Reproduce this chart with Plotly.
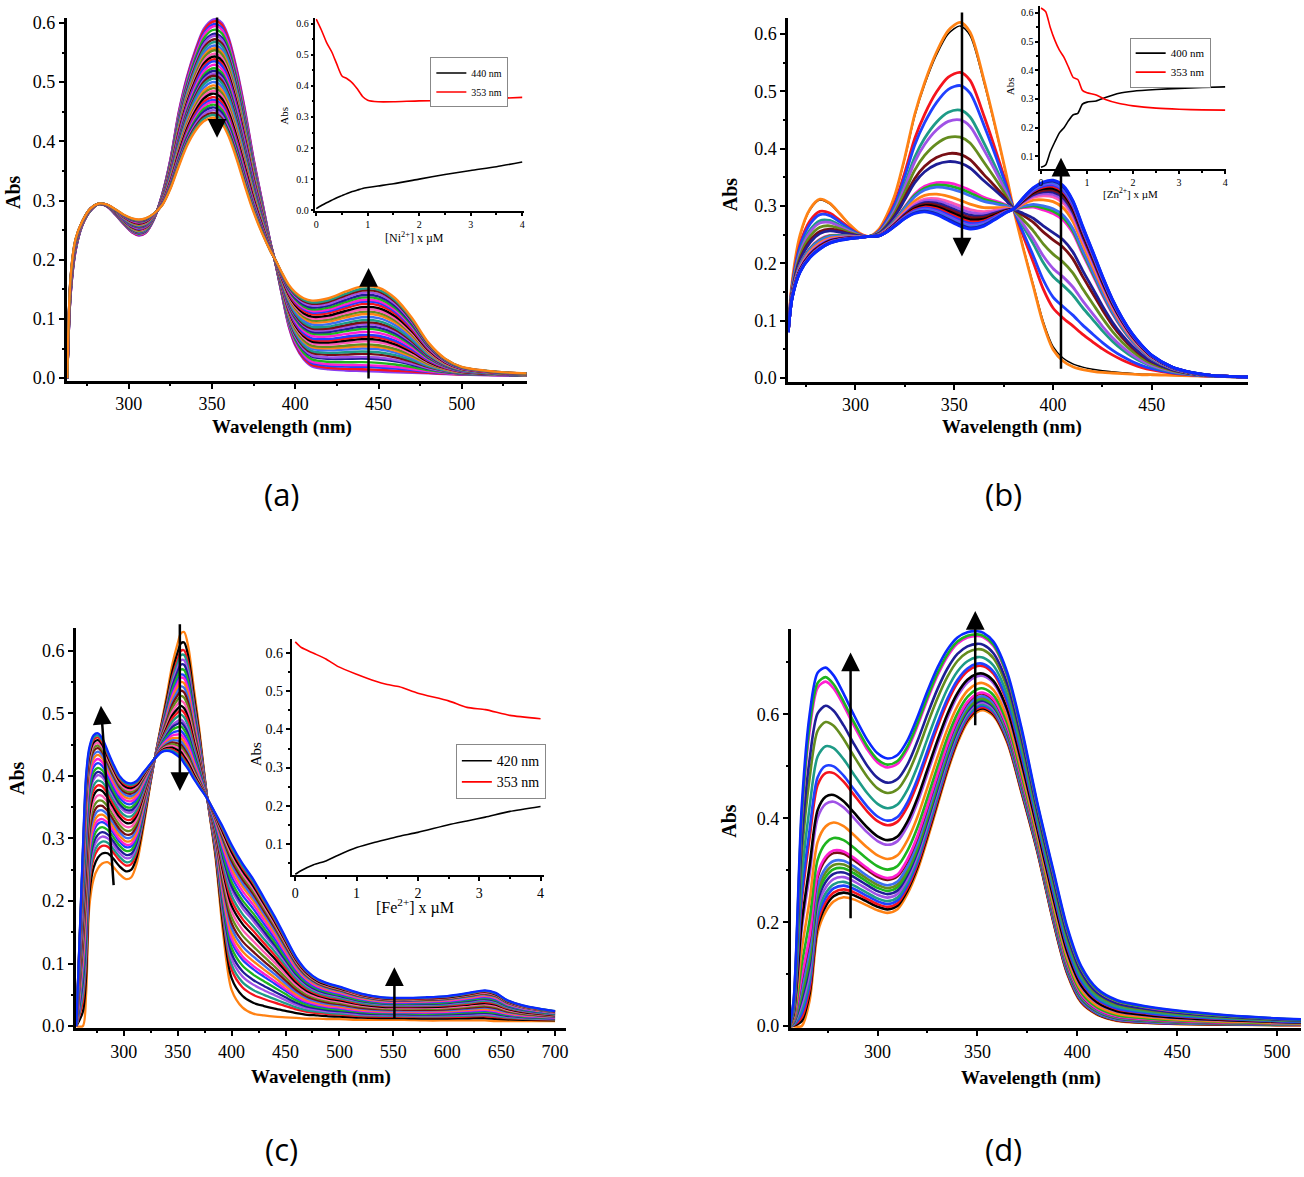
import plotly.graph_objects as go

W, H = 1304, 1177
SERIF = "Liberation Serif"


def fx(p):
    return p / W


def fy(p):
    return 1 - p / H


# ---------------- data ----------------
# (a) Ni2+ titration
wl_a = [263, 265, 268, 272, 277, 282, 287, 292, 297, 302, 306, 310, 315, 320, 325,
        330, 335, 340, 345, 350, 353, 356, 360, 365, 370, 375, 380, 385, 388, 392,
        396, 400, 405, 410, 420, 430, 440, 450, 460, 470, 480, 490, 500, 520, 539]
abs_a_free = [0.0, 0.14, 0.215, 0.258, 0.283, 0.294, 0.29, 0.276, 0.26, 0.246,
              0.241, 0.245, 0.268, 0.31, 0.37, 0.45, 0.51, 0.555, 0.59, 0.605,
              0.606, 0.6, 0.575, 0.52, 0.45, 0.37, 0.3, 0.23, 0.195, 0.14,
              0.088, 0.055, 0.032, 0.02, 0.015, 0.013, 0.012, 0.011, 0.01, 0.009,
              0.008, 0.007, 0.006, 0.005, 0.004]
abs_a_ni = [0.0, 0.17, 0.235, 0.265, 0.287, 0.295, 0.293, 0.285, 0.276, 0.27,
            0.268, 0.27, 0.278, 0.292, 0.32, 0.358, 0.393, 0.418, 0.434, 0.44,
            0.438, 0.43, 0.408, 0.368, 0.322, 0.28, 0.245, 0.215, 0.2, 0.178,
            0.158, 0.145, 0.135, 0.131, 0.135, 0.146, 0.155, 0.153, 0.135, 0.102,
            0.06, 0.033, 0.019, 0.011, 0.008]
a_band440 = [0.012, 0.015, 0.019, 0.022, 0.027, 0.033, 0.036, 0.041, 0.045, 0.05,
             0.054, 0.057, 0.062, 0.066, 0.07, 0.073, 0.078, 0.083, 0.087, 0.091,
             0.094, 0.098, 0.103, 0.108, 0.112, 0.116, 0.12, 0.125, 0.129, 0.132,
             0.136, 0.14, 0.144, 0.148, 0.151, 0.155]
ni_conc = [0, 0.1, 0.2, 0.3, 0.4, 0.5, 0.6, 0.7, 0.8, 0.9, 1.0, 1.2, 1.5, 2.0, 2.5, 3.0, 3.5, 4.0]
ni_353 = [0.615, 0.58, 0.54, 0.51, 0.47, 0.432, 0.423, 0.41, 0.39, 0.366, 0.354,
          0.349, 0.349, 0.352, 0.353, 0.356, 0.36, 0.363]
ni_440 = [0.005, 0.015, 0.024, 0.032, 0.04, 0.047, 0.054, 0.06, 0.065, 0.07, 0.073,
          0.078, 0.085, 0.1, 0.115, 0.128, 0.14, 0.155]

# (b) Zn2+ titration
wl_b = [266, 268, 272, 277, 282, 287, 292, 297, 302, 307, 312, 316, 320, 325, 330,
        335, 341, 347, 353, 358, 365, 370, 376, 380, 385, 390, 395, 400, 405, 410,
        415, 420, 425, 430, 435, 440, 445, 450, 460, 470, 480, 499]
abs_b_free = [0.09, 0.17, 0.25, 0.295, 0.312, 0.305, 0.287, 0.268, 0.253, 0.247,
              0.26, 0.285, 0.32, 0.385, 0.46, 0.515, 0.568, 0.606, 0.62, 0.603,
              0.52, 0.45, 0.36, 0.295, 0.225, 0.16, 0.095, 0.05, 0.03, 0.02,
              0.015, 0.012, 0.01, 0.009, 0.008, 0.007, 0.006, 0.006, 0.005, 0.004,
              0.003, 0.002]
abs_b_zn = [0.08, 0.14, 0.185, 0.21, 0.225, 0.235, 0.24, 0.243, 0.245, 0.247,
            0.248, 0.255, 0.265, 0.278, 0.287, 0.29, 0.285, 0.275, 0.265, 0.26,
            0.265, 0.275, 0.288, 0.295, 0.315, 0.332, 0.342, 0.345, 0.336, 0.31,
            0.265, 0.222, 0.178, 0.138, 0.105, 0.078, 0.057, 0.04, 0.02, 0.01,
            0.005, 0.002]
# order of drawing: the thin black trace lies under the first (orange) one
b_peak353 = [0.614, 0.62, 0.533, 0.51, 0.467, 0.45, 0.42, 0.39, 0.375, 0.335, 0.33,
             0.325, 0.31, 0.3, 0.295, 0.29, 0.286, 0.282, 0.278, 0.275, 0.272, 0.27,
             0.267, 0.265]
zn_conc = [0, 0.1, 0.2, 0.3, 0.4, 0.5, 0.6, 0.7, 0.8, 0.9, 1.0, 1.2, 1.4, 1.7, 2.0, 2.5, 3.0, 3.5, 4.0]
zn_353 = [0.617, 0.605, 0.55, 0.505, 0.47, 0.445, 0.41, 0.375, 0.368, 0.33, 0.322,
          0.314, 0.298, 0.284, 0.276, 0.268, 0.264, 0.262, 0.261]
zn_400 = [0.062, 0.07, 0.115, 0.15, 0.182, 0.2, 0.225, 0.245, 0.25, 0.282, 0.289,
          0.293, 0.305, 0.32, 0.327, 0.333, 0.337, 0.34, 0.342]

# (c) Fe2+ titration
wl_c = [256, 262, 265, 268, 272, 276, 280, 285, 290, 296, 302, 307, 312, 318, 325,
        330, 335, 340, 345, 350, 353, 356, 360, 365, 370, 377, 385, 392, 400, 410,
        420, 430, 440, 450, 460, 470, 480, 490, 500, 520, 540, 560, 580, 600, 620,
        635, 645, 655, 670, 685, 700]
abs_c_free = [0.0, 0.0, 0.05, 0.19, 0.235, 0.252, 0.26, 0.262, 0.255, 0.243,
              0.235, 0.238, 0.26, 0.315, 0.39, 0.44, 0.485, 0.53, 0.578, 0.612,
              0.628, 0.63, 0.605, 0.54, 0.475, 0.37, 0.27, 0.15, 0.058, 0.03,
              0.02, 0.017, 0.015, 0.014, 0.013, 0.012, 0.012, 0.011, 0.011, 0.01,
              0.01, 0.01, 0.009, 0.009, 0.009, 0.009, 0.008, 0.008, 0.008, 0.008,
              0.008]
abs_c_fe = [0.0, 0.28, 0.4, 0.445, 0.465, 0.468, 0.46, 0.44, 0.42, 0.4,
            0.39, 0.388, 0.392, 0.405, 0.42, 0.43, 0.438, 0.44, 0.438, 0.432,
            0.428, 0.42, 0.41, 0.395, 0.382, 0.365, 0.34, 0.318, 0.29, 0.26,
            0.235, 0.205, 0.175, 0.142, 0.11, 0.088, 0.075, 0.068, 0.063, 0.052,
            0.046, 0.045, 0.046, 0.048, 0.053, 0.057, 0.053, 0.042, 0.033, 0.028,
            0.024]
c_peak353 = [0.628, 0.612, 0.6, 0.593, 0.585, 0.578, 0.57, 0.562, 0.557, 0.55, 0.543,
             0.536, 0.528, 0.52, 0.512, 0.505, 0.498, 0.49, 0.485, 0.479, 0.472,
             0.466, 0.46, 0.455, 0.45, 0.446, 0.442, 0.438, 0.434, 0.431, 0.428]
fe_conc = [0, 0.1, 0.3, 0.5, 0.7, 1.0, 1.3, 1.5, 1.7, 2.0, 2.5, 2.8, 3.1, 3.5, 4.0]
fe_353 = [0.63, 0.615, 0.6, 0.585, 0.565, 0.545, 0.527, 0.518, 0.512, 0.495, 0.475,
          0.458, 0.452, 0.437, 0.428]
fe_420 = [0.02, 0.03, 0.045, 0.055, 0.07, 0.09, 0.104, 0.112, 0.12, 0.13, 0.15,
          0.16, 0.17, 0.185, 0.198]

# (d)
wl_d = [256, 258, 262, 266, 270, 274, 278, 283, 288, 295, 300, 305, 310, 315, 320,
        325, 330, 335, 340, 345, 350, 353, 358, 365, 372, 380, 388, 395, 402, 410,
        420, 435, 450, 475, 500, 512]
abs_d_start = [0.0, 0.0, 0.0, 0.05, 0.18, 0.22, 0.24, 0.248, 0.244, 0.232,
               0.223, 0.218, 0.225, 0.255, 0.3, 0.36, 0.425, 0.49, 0.545, 0.585,
               0.605, 0.608, 0.597, 0.545, 0.45, 0.335, 0.2, 0.1, 0.045, 0.022,
               0.01, 0.006, 0.004, 0.003, 0.002, 0.002]
abs_d_end = [0.0, 0.05, 0.42, 0.6, 0.68, 0.69, 0.675, 0.64, 0.6, 0.55,
             0.525, 0.515, 0.522, 0.55, 0.595, 0.645, 0.69, 0.725, 0.748, 0.758,
             0.76, 0.757, 0.74, 0.68, 0.575, 0.43, 0.3, 0.19, 0.115, 0.072,
             0.05, 0.038, 0.03, 0.021, 0.015, 0.013]
d_band278 = [0.24, 0.25, 0.257, 0.265, 0.273, 0.283, 0.293, 0.302, 0.31, 0.318,
             0.333, 0.338, 0.362, 0.392, 0.432, 0.445, 0.487, 0.5, 0.535, 0.578,
             0.607, 0.65, 0.658, 0.675]

# ---------------- styles ----------------
BLACK, RED, BLUE, MAG = "#000000", "#F5141E", "#2040FF", "#FF1ED2"
GREEN, NAVY, VIOL, WINE = "#1EB41E", "#1E1E96", "#A052E6", "#780F14"
TEAL, ROYAL, ORANGE, OLIVE = "#1E9B87", "#3C6EF0", "#FF8214", "#648C1E"
PINK, PURPLE = "#FF5AB4", "#8A3CF0"
CYCLE = [RED, BLUE, MAG, GREEN, NAVY, VIOL, WINE, TEAL, ROYAL, ORANGE, OLIVE, PINK, BLACK]

colors_b = [BLACK, ORANGE, RED, BLUE, TEAL, VIOL, OLIVE, WINE, NAVY, MAG, GREEN, ROYAL,
            ORANGE, PINK, VIOL, NAVY, WINE, BLACK, RED, BLUE, PURPLE, ROYAL, NAVY, "#0A28FF"]
colors_d = [ORANGE, BLACK, RED, BLUE, TEAL, VIOL, NAVY, GREEN, OLIVE, ROYAL, WINE, MAG,
            GREEN, ORANGE, VIOL, BLACK, RED, BLUE, TEAL, OLIVE, NAVY, MAG, GREEN, "#0A28FF"]


def series(start, end, idx, level):
    f = (level - start[idx]) / (end[idx] - start[idx])
    return [s + f * (e - s) for s, e in zip(start, end)]


fig = go.Figure()


def add_family(wl, start, end, idx, levels, colorf, widthf, xa, ya):
    n = len(levels)
    for i, lv in enumerate(levels):
        fig.add_trace(go.Scatter(
            x=wl, y=series(start, end, idx, lv), mode="lines",
            line=dict(color=colorf(i, n), width=widthf(i, n), shape="spline", smoothing=0.8),
            xaxis=xa, yaxis=ya, showlegend=False, hoverinfo="skip"))


add_family(wl_a, abs_a_free, abs_a_ni, wl_a.index(440), a_band440,
           lambda i, n: PURPLE if i == 0 else (ORANGE if i == n - 1 else CYCLE[(i - 1) % len(CYCLE)]),
           lambda i, n: 2.4, "x", "y")
add_family(wl_b, abs_b_free, abs_b_zn, wl_b.index(353), b_peak353,
           lambda i, n: colors_b[i], lambda i, n: 1.5 if i == 0 else 2.8, "x3", "y3")
add_family(wl_c, abs_c_free, abs_c_fe, wl_c.index(353), c_peak353,
           lambda i, n: ORANGE if i == 0 else ("#0A28FF" if i == n - 1 else
                                              [BLACK, RED, TEAL, VIOL, NAVY, GREEN, BLUE, MAG,
                                               ORANGE, ROYAL, WINE, OLIVE, PINK][(i - 1) % 13]),
           lambda i, n: 2.3, "x5", "y5")
add_family(wl_d, abs_d_start, abs_d_end, wl_d.index(278), d_band278,
           lambda i, n: colors_d[i], lambda i, n: 2.6, "x7", "y7")

# insets
for conc, ya_vals, yb_vals, la, lb, xa, ya, leg in [
    (ni_conc, ni_440, ni_353, "440 nm", "353 nm", "x2", "y2", "legend"),
    (zn_conc, zn_400, zn_353, "400 nm", "353 nm", "x4", "y4", "legend2"),
    (fe_conc, fe_420, fe_353, "420 nm", "353 nm", "x6", "y6", "legend3"),
]:
    fig.add_trace(go.Scatter(x=conc, y=ya_vals, mode="lines", name=la,
                             line=dict(color="black", width=1.6, shape="spline", smoothing=0.6),
                             xaxis=xa, yaxis=ya, legend=leg, hoverinfo="skip"))
    fig.add_trace(go.Scatter(x=conc, y=yb_vals, mode="lines", name=lb,
                             line=dict(color="#FF0000", width=1.6, shape="spline", smoothing=0.6),
                             xaxis=xa, yaxis=ya, legend=leg, hoverinfo="skip"))


def axis(domain, rng, tick0, dtick, mdtick, fsize, anchor, lw=3, tl=5, fmt=None):
    d = dict(domain=domain, range=rng, tick0=tick0, dtick=dtick, ticks="outside",
             ticklen=tl, tickwidth=2, tickcolor="black", showline=True, linecolor="black",
             linewidth=lw, showgrid=False, zeroline=False, anchor=anchor,
             tickfont=dict(family=SERIF, size=fsize, color="black"),
             minor=dict(ticks="outside", ticklen=max(2, tl // 2), tickwidth=2,
                        tickcolor="black", dtick=mdtick, tick0=tick0, showgrid=False))
    if fmt:
        d["tickformat"] = fmt
    return d


layout = dict(
    width=W, height=H, margin=dict(l=0, r=0, t=0, b=0),
    paper_bgcolor="white", plot_bgcolor="rgba(0,0,0,0)",
    # (a)
    xaxis=axis([fx(65), fx(526.7)], [262.7, 539], 300, 50, 25, 18, "y"),
    yaxis=axis([fy(380.4), fy(13.8)], [-0.004, 0.609], 0, 0.1, 0.05, 18, "x", fmt=".1f"),
    xaxis2=axis([fx(314.7), fx(524)], [-0.014, 4.035], 0, 1, 0.5, 10, "y2", lw=1.5, tl=3),
    yaxis2=axis([fy(209.3), fy(14)], [-0.003, 0.619], 0, 0.1, 0.05, 10, "x2", lw=1.5, tl=3, fmt=".1f"),
    # (b)
    xaxis3=axis([fx(789.3), fx(1250.7)], [266, 498.6], 300, 50, 25, 18, "y3"),
    yaxis3=axis([fy(381.5), fy(14)], [-0.006, 0.628], 0, 0.1, 0.05, 18, "x3", fmt=".1f"),
    xaxis4=axis([fx(1042.2), fx(1229)], [-0.017, 4.025], 0, 1, 0.5, 10, "y4", lw=1.5, tl=3),
    yaxis4=axis([fy(166.7), fy(2)], [0.056, 0.624], 0, 0.1, 0.05, 10, "x4", lw=1.5, tl=3, fmt=".1f"),
    # (c)
    xaxis5=axis([fx(74.3), fx(566)], [255.7, 710], 300, 50, 25, 18, "y5"),
    yaxis5=axis([fy(1034.5), fy(630.7)], [-0.003, 0.636], 0, 0.1, 0.05, 18, "x5", fmt=".1f"),
    xaxis6=axis([fx(290.7), fx(543.7)], [-0.06, 4.05], 0, 1, 0.5, 14, "y6", lw=1.5, tl=4),
    yaxis6=axis([fy(880), fy(641.7)], [0.018, 0.637], 0, 0.1, 0.05, 14, "x6", lw=1.5, tl=4, fmt=".1f"),
    # (d)
    xaxis7=axis([fx(791.9), 1.0], [256.6, 512], 300, 50, 25, 18, "y7"),
    yaxis7=axis([fy(1035), fy(631.7)], [-0.0044, 0.7638], 0, 0.2, 0.1, 18, "x7", fmt=".1f"),
    legend=dict(x=fx(430), y=fy(54), xanchor="left", yanchor="top", bordercolor="#888",
                borderwidth=1, bgcolor="white", font=dict(family=SERIF, size=10, color="black"),
                itemwidth=30, tracegroupgap=0),
    legend2=dict(x=fx(1132), y=fy(34), xanchor="left", yanchor="top", bordercolor="#888",
                 borderwidth=1, bgcolor="white", font=dict(family=SERIF, size=11, color="black"),
                 itemwidth=30, tracegroupgap=0),
    legend3=dict(x=fx(455.6), y=fy(747.7), xanchor="left", yanchor="top", bordercolor="#888",
                 borderwidth=1, bgcolor="white", font=dict(family=SERIF, size=14, color="black"),
                 itemwidth=30, tracegroupgap=0),
)
fig.update_layout(**layout)

ann = []


def text(x, y, t, size, angle=0, family=SERIF):
    ann.append(dict(x=fx(x), y=fy(y), xref="paper", yref="paper", text=t, showarrow=False,
                    textangle=angle, xanchor="center", yanchor="middle",
                    font=dict(family=family, size=size, color="black")))


# axis titles
for (xw, yw), (xa_, ya_) in [((281, 427), (11, 190)), ((1014, 427), (731, 192)),
                             ((320, 1084), (15, 782)), ((1033, 1085), (729, 825))]:
    text(xw, yw, "<b>Wavelength (nm)</b>", 19)
    text(xa_, ya_, "<b>Abs</b>", 20, angle=-90)

# inset titles
text(283, 113, "Abs", 11, angle=-90)
text(414, 236, "[Ni<sup>2+</sup>] x µM", 12)
text(1012, 83, "Abs", 11, angle=-90)
text(1133, 191, "[Zn<sup>2+</sup>] x µM", 11)
text(255, 758, "Abs", 15, angle=-90)
text(415, 912, "[Fe<sup>2+</sup>] x µM", 16)

# panel labels
for lbl, x, y in [("(a)", 281, 495), ("(b)", 1005, 495), ("(c)", 281, 1157), ("(d)", 1005, 1157)]:
    text(x, y, lbl, 31, family="Open Sans")


def arrow(xr, yr, x, y, ax, ay):
    ann.append(dict(x=x, y=y, ax=ax, ay=ay, xref=xr, yref=yr, axref=xr, ayref=yr,
                    text="", showarrow=True, arrowhead=2, arrowsize=1.5, arrowwidth=2.5,
                    arrowcolor="black", standoff=0))


arrow("x", "y", 353, 0.406, 353, 0.612)
arrow("x", "y", 444, 0.186, 444, -0.003)
arrow("x3", "y3", 353.9, 0.212, 353.9, 0.64)
arrow("x3", "y3", 404, 0.384, 404, 0.014)
arrow("x5", "y5", 352, 0.376, 352, 0.645)
arrow("x5", "y5", 278.8, 0.512, 290.7, 0.223)
arrow("x5", "y5", 551, 0.094, 551, 0.01)
arrow("x7", "y7", 286.5, 0.719, 286.5, 0.205)
arrow("x7", "y7", 348.9, 0.799, 348.9, 0.576)

fig.update_layout(annotations=ann)
fig.write_html("out.html")
